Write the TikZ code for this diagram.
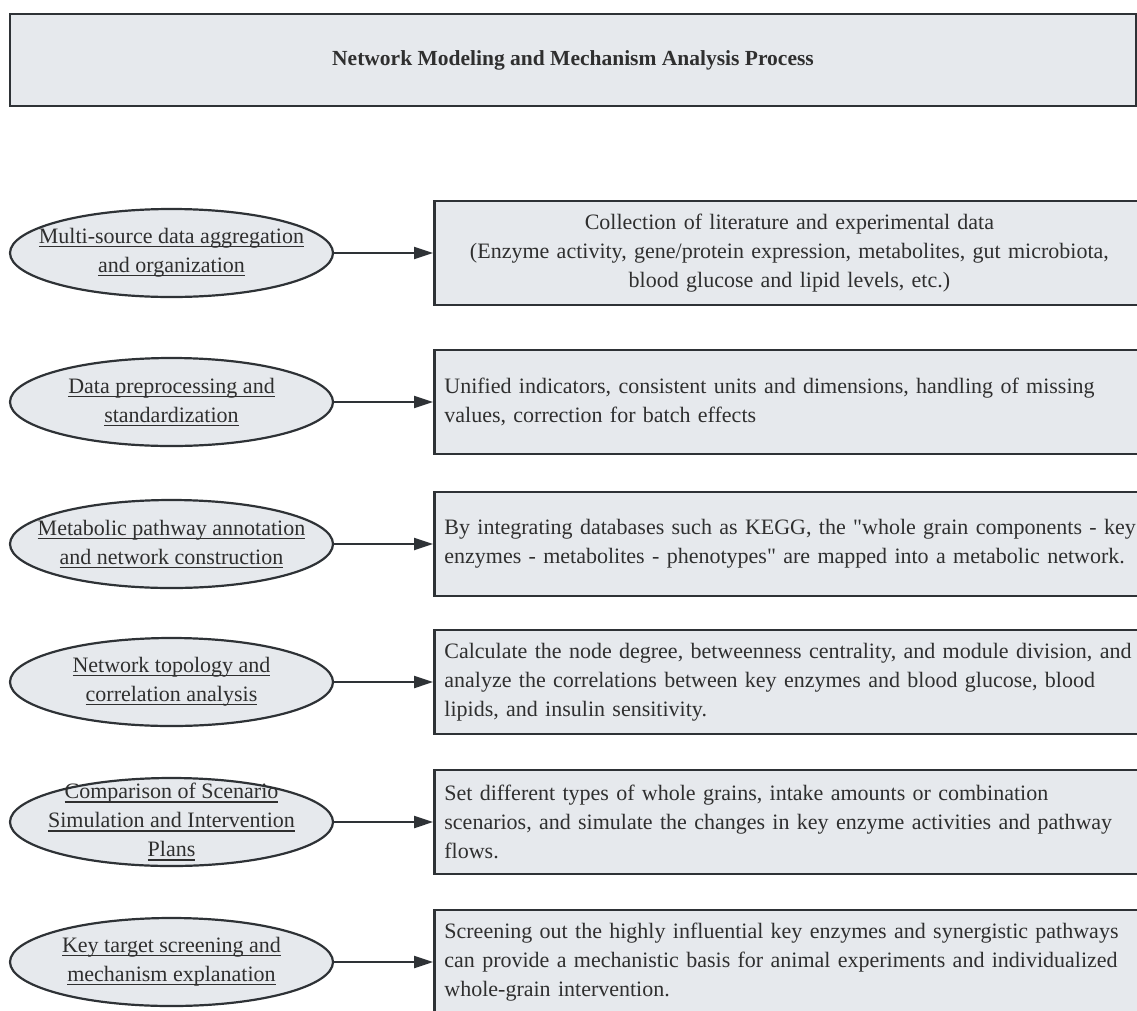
\documentclass[tikz,border=0pt]{standalone}
\usepackage{fontspec}
\setmainfont{Liberation Serif}[Ligatures=TeXOff]
\usepackage{xcolor}
\usetikzlibrary{arrows.meta, positioning, shapes.geometric}
\definecolor{panelgrey}{HTML}{E6E9ED}
\definecolor{inkline}{HTML}{2E3236}
\definecolor{inktext}{HTML}{2F2F2F}
\newcommand{\ulin}[1]{\setbox0\hbox{#1}\rlap{\rule[-3.6pt]{\wd0}{1.4pt}}\box0}

\begin{document}
\begin{tikzpicture}[
    x=1pt, y=-1pt,
    font=\fontsize{22}{29}\selectfont, text=inktext,
    headbox/.style={
        rectangle, draw=inkline, line width=2.6pt, fill=panelgrey,
        minimum width=1126pt, minimum height=92pt,
        font=\fontsize{21.5}{26}\selectfont\bfseries
    },
    stage/.style={
        ellipse, draw=inkline, line width=2.2pt, fill=panelgrey,
        minimum width=323pt, minimum height=88pt, inner sep=0pt
    },
    stagetxt/.style={align=center, inner sep=0pt},
    detail/.style={
        rectangle, draw=inkline, line width=2.6pt, fill=panelgrey,
        text width=730pt, minimum height=104pt,
        inner xsep=10pt, inner ysep=6pt, align=left
    },
    arr/.style={-{Triangle[length=19pt,width=12pt]}, line width=2pt, draw=inkline}
]
\useasboundingbox (0,0) rectangle (1137,1010);
\clip (0,0) rectangle (1137,1010);

\node[headbox] (head) at (573,60) {Network Modeling and Mechanism Analysis Process};

\node[stage, label={[stagetxt]center:\ulin{Multi-source data aggregation}\\\ulin{and organization}}] (agg) at (171.5,253) {};
\node[stage, label={[stagetxt]center:\ulin{Data preprocessing and}\\\ulin{standardization}}] (prep) at (171.5,402) {};
\node[stage, label={[stagetxt]center:\ulin{Metabolic pathway annotation}\\\ulin{and network construction}}] (path) at (171.5,544) {};
\node[stage, label={[stagetxt]center:\ulin{Network topology and}\\\ulin{correlation analysis}}] (topo) at (171.5,682) {};
\node[stage, label={[stagetxt]center:\ulin{Comparison of Scenario}\\\ulin{Simulation and Intervention}\\\ulin{Plans}}] (sim) at (171.5,822) {};
\node[stage, label={[stagetxt]center:\ulin{Key target screening and}\\\ulin{mechanism explanation}}] (tgt) at (171.5,962) {};

\node[detail, text width=690pt, align=center, right=99pt of agg] (aggbox) {Collection of literature and experimental data\\(Enzyme activity, gene/protein expression, metabolites, gut microbiota,\\blood glucose and lipid levels, etc.)};
\node[detail, right=99pt of prep] (prepbox) {Unified indicators, consistent units and dimensions, handling of missing\\values, correction for batch effects};
\node[detail, right=99pt of path] (pathbox) {By integrating databases such as KEGG, the "whole grain components - key\\enzymes - metabolites - phenotypes" are mapped into a metabolic network.};
\node[detail, right=99pt of topo] (topobox) {Calculate the node degree, betweenness centrality, and module division, and\\analyze the correlations between key enzymes and blood glucose, blood\\lipids, and insulin sensitivity.};
\node[detail, right=99pt of sim] (simbox) {Set different types of whole grains, intake amounts or combination\\scenarios, and simulate the changes in key enzyme activities and pathway\\flows.};
\node[detail, right=99pt of tgt] (tgtbox) {Screening out the highly influential key enzymes and synergistic pathways\\can provide a mechanistic basis for animal experiments and individualized\\whole-grain intervention.};

\draw[arr] (agg) -- (aggbox);
\draw[arr] (prep) -- (prepbox);
\draw[arr] (path) -- (pathbox);
\draw[arr] (topo) -- (topobox);
\draw[arr] (sim) -- (simbox);
\draw[arr] (tgt) -- (tgtbox);

\end{tikzpicture}
\end{document}
